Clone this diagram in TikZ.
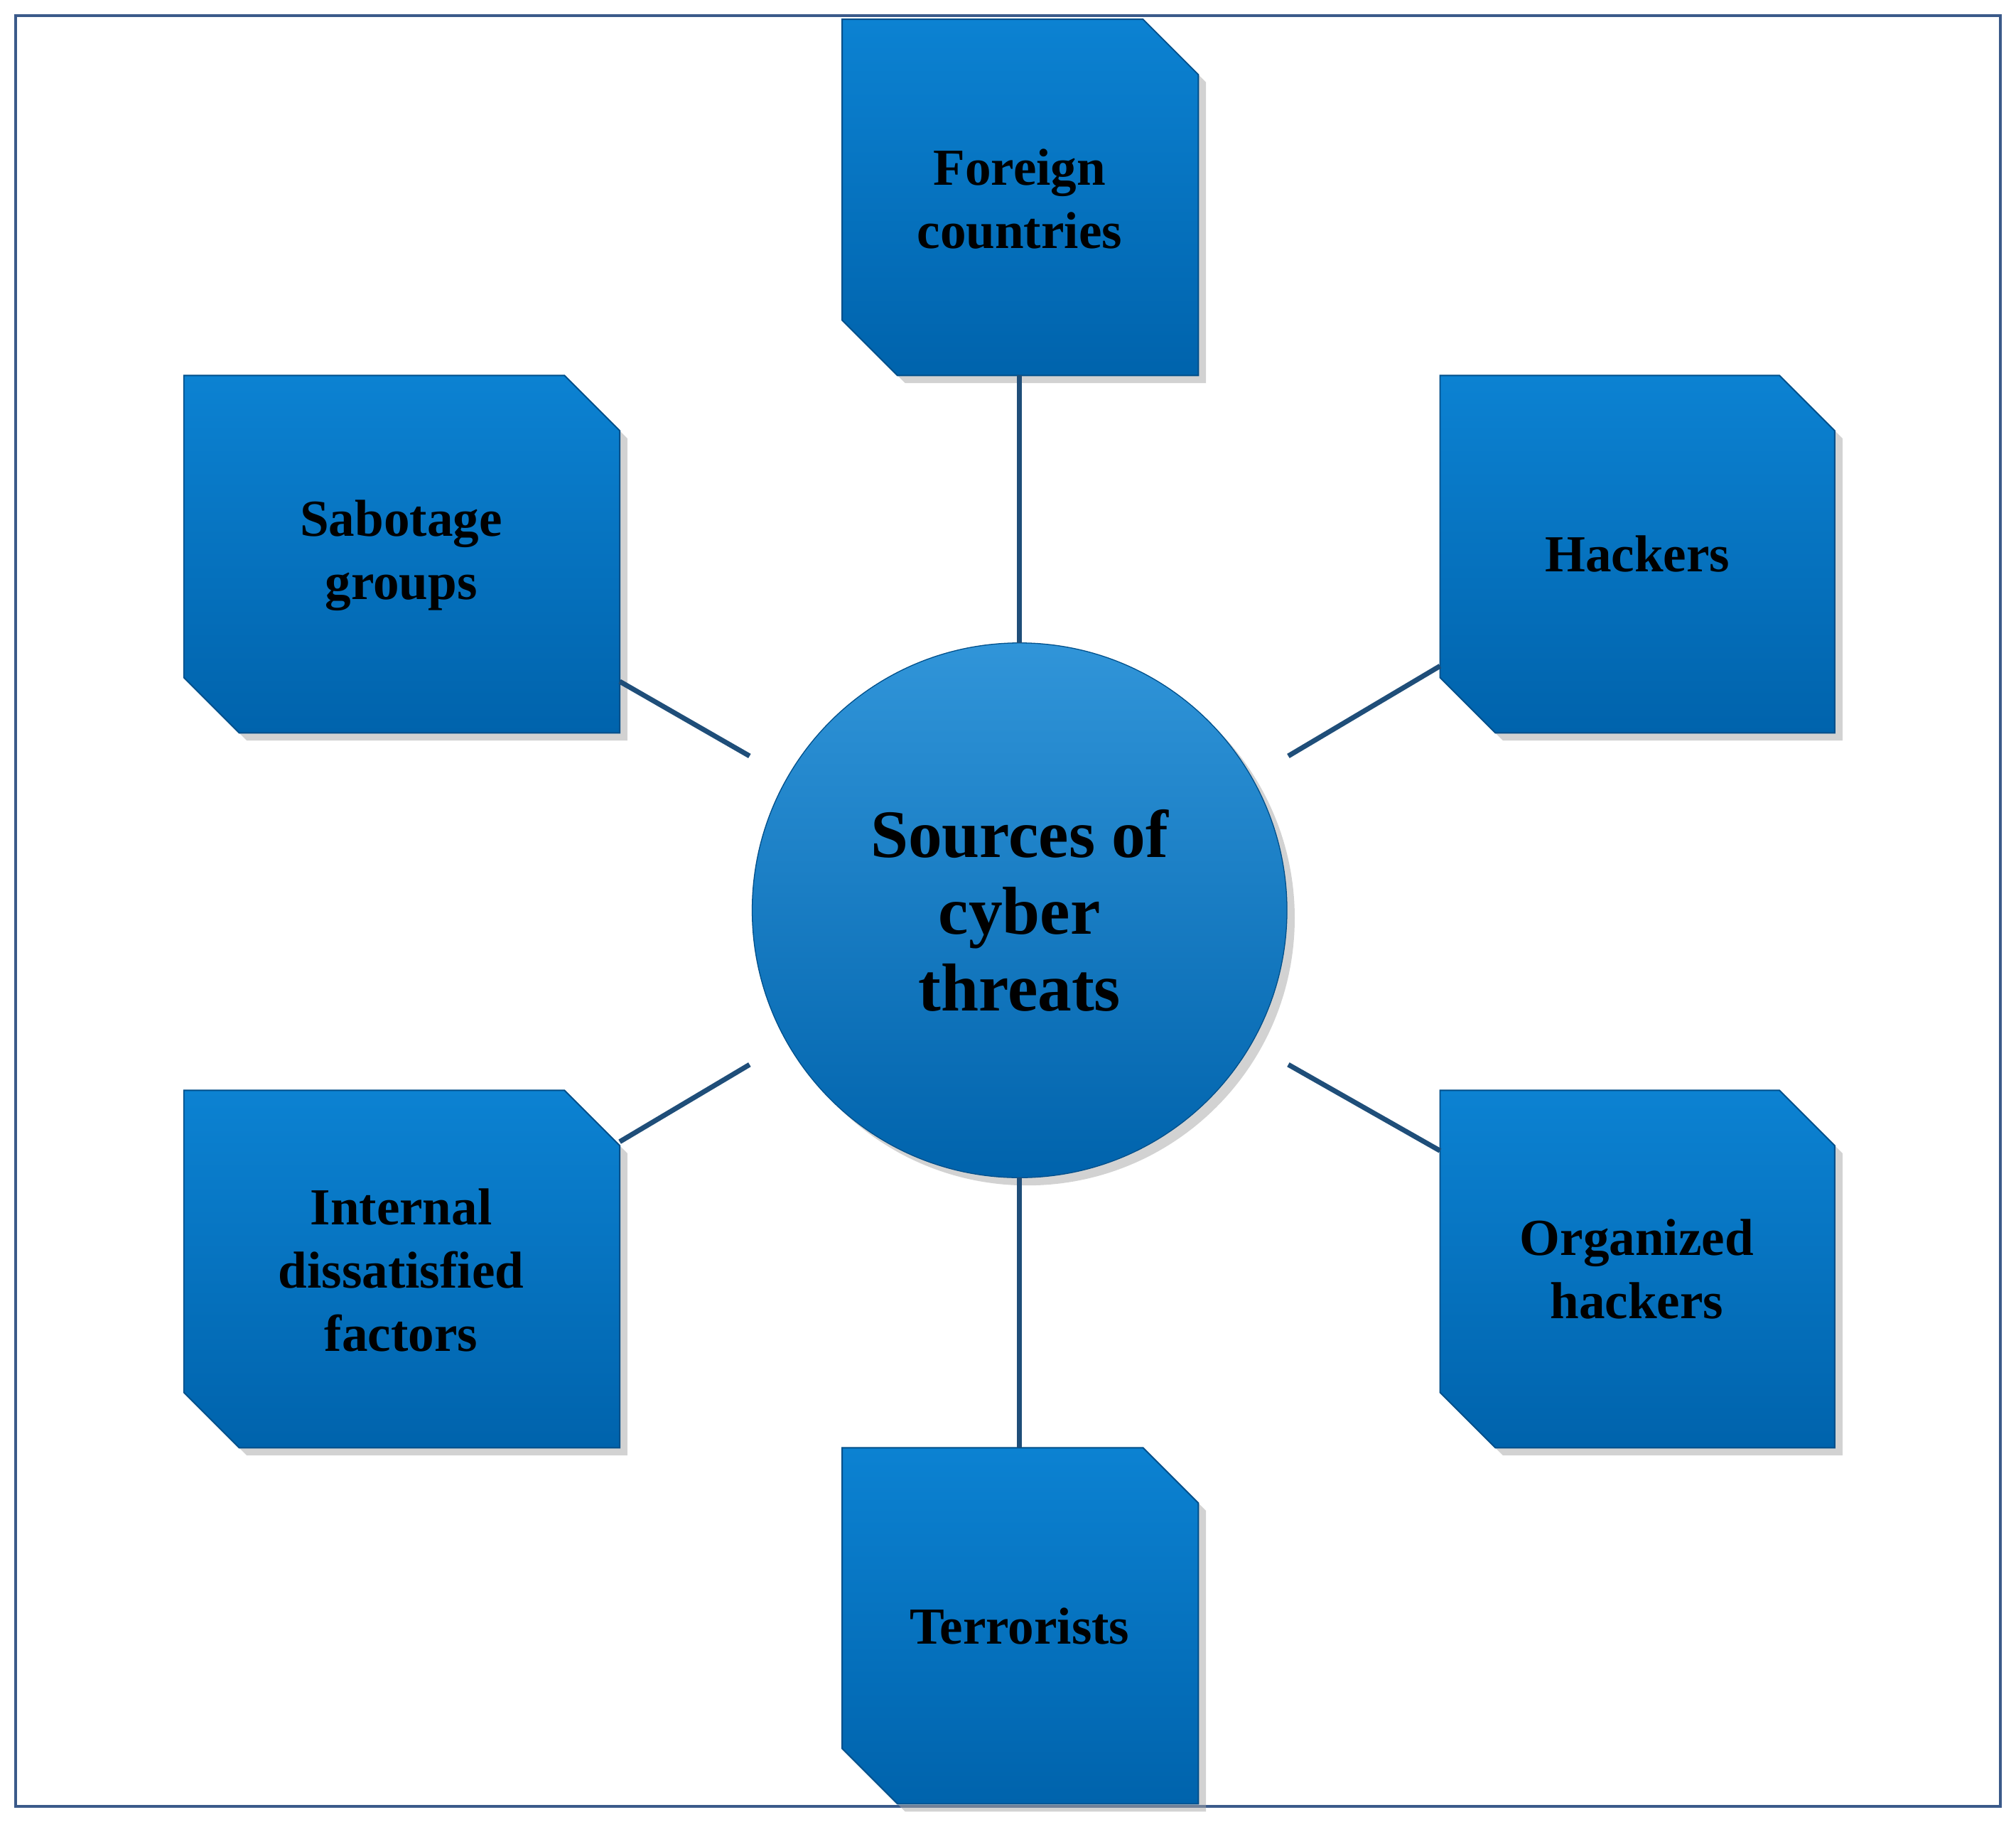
\documentclass[tikz,border=0pt]{standalone}
\usepackage{fontspec}
\setmainfont{Liberation Serif}
\begin{document}
\begin{tikzpicture}[x=0.02cm,y=-0.02cm,
  boxfill/.style={top color=blue1,bottom color=blue2,draw=blue2!80!black,line width=0.6pt},
  lbl/.style={font=\bfseries\fontsize{23}{28}\selectfont,align=center,text=black},
  conn/.style={draw=lineblue,line width=2.2pt}]
\definecolor{blue1}{HTML}{0C82D2}
\definecolor{blue2}{HTML}{0063AC}
\definecolor{lineblue}{HTML}{1F4E79}
\definecolor{frame}{HTML}{3B5A8A}
\useasboundingbox (0,0) rectangle (1568,1417);
\draw[frame,line width=1.2pt] (12,12) rectangle (1556,1405);
\newcommand\cutbox[6]{%
  \fill[black!35,opacity=0.5] (#2+6+43,#3+6) -- (#4+6-43,#3+6) -- (#4+6,#3+6+43) -- (#4+6,#5+6) -- (#2+6+43,#5+6) -- (#2+6,#5+6-43) -- (#2+6,#3+6) -- cycle;
  \path[boxfill] (#2,#3) -- (#4-43,#3) -- (#4,#3+43) -- (#4,#5) -- (#2+43,#5) -- (#2,#5-43) -- cycle;
  \node[lbl] (#1) at ({(#2+#4)/2},{(#3+#5)/2}) {#6};}
\cutbox{fc}{655}{15}{932}{292}{}
\node[lbl] at (793,155) {Foreign\\countries};
\cutbox{sg}{143}{292}{482}{570}{}
\node[lbl] at (312,432) {Sabotage\\groups};
\cutbox{hk}{1120}{292}{1427}{570}{Hackers}
\cutbox{id}{143}{848}{482}{1126}{}
\node[lbl] at (312,988) {Internal\\dissatisfied\\factors};
\cutbox{oh}{1120}{848}{1427}{1126}{}
\node[lbl] at (1273,987) {Organized\\hackers};
\cutbox{tr}{655}{1126}{932}{1403}{}
\node[lbl] at (793,1265) {Terrorists};
\shade[ball color=blue1!90!white,opacity=0] (793,708) circle (208);
\fill[black!35,opacity=0.5] (799,714) circle (208);
\node[circle,minimum size=8.32cm,inner sep=0pt,top color=blue1!85!white,bottom color=blue2,draw=blue2!80!black,
  font=\bfseries\fontsize{30}{34}\selectfont,align=center] (c) at (793,708) {Sources of\\cyber\\threats};
\coordinate (a1) at (793,292); \coordinate (a2) at (793,500);
\coordinate (b1) at (482,530); \coordinate (b2) at (583,588);
\coordinate (h1) at (1120,518); \coordinate (h2) at (1002,588);
\coordinate (i1) at (482,888); \coordinate (i2) at (583,828);
\coordinate (o1) at (1120,895); \coordinate (o2) at (1002,828);
\coordinate (t1) at (793,916); \coordinate (t2) at (793,1126);
\draw[conn] (a1) -- (a2);
\draw[conn] (b1) -- (b2);
\draw[conn] (h1) -- (h2);
\draw[conn] (i1) -- (i2);
\draw[conn] (o1) -- (o2);
\draw[conn] (t1) -- (t2);
\end{tikzpicture}
\end{document}
